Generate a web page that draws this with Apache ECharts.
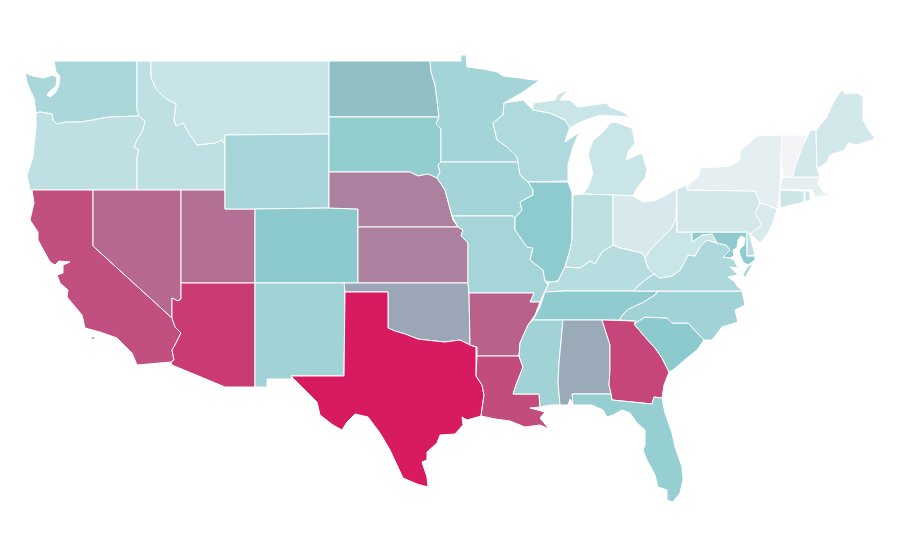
<!DOCTYPE html>
<html><head><meta charset="utf-8">
<script src="https://cdn.jsdelivr.net/npm/echarts@6/dist/echarts.min.js"></script>
<style>html,body{margin:0;background:#fff}#c{width:900px;height:560px}</style></head>
<body><div id="c"></div>
<script>
const stateNames = ["Washington","Oregon","California","Idaho","Montana","Nevada","Utah","Arizona","Wyoming","Colorado","New Mexico","North Dakota","South Dakota","Nebraska","Kansas","Oklahoma","Texas","Minnesota","Iowa","Missouri","Arkansas","Louisiana","Wisconsin","Illinois","Michigan","Indiana","Ohio","Kentucky","Tennessee","Mississippi","Alabama","Georgia","Florida","South Carolina","North Carolina","Virginia","West Virginia","Maryland","Delaware","New Jersey","Pennsylvania","New York","Connecticut","Rhode Island","Massachusetts","Vermont","New Hampshire","Maine"];
const stateValues = [36,26,85,26,21,78,76,91,38,50,40,53,47,71,71,60,100,39,39,38,80,86,33,49,20,27,14,29,48,40,59,88,45,50,40,34,20,48,26,13,16,7,19,19,7,0,16,16];
const colorStops = ["#f4f4f6","#c0e1e4","#8ccacd","#b27296","#d81b60"];
// State outlines, as rings of "x,y" map coordinates
const outlines = {
"Washington":["54,61 137,61 137,110 139,116 108,117 93,120 80,122 66,122 57,124 53,120 52,114 40,112 36,113 35,105 34,98 30,90 27,82 25,73 33,76 43,78 53,75 57,78 56,86 50,91 47,95 50,97 56,92 59,85 60,76 56,72"],
"Oregon":["36,113 40,112 52,114 53,120 57,124 66,122 80,122 93,120 108,117 139,116 145,121 143,130 137,140 134,147 139,150 137,157 137,190 30,190 27,175 33,157 36,127"],
"California":["32,190 93,190 93,246 172,318 175,327 181,333 175,345 172,350 174,360 171,362 137,365 132,353 117,338 100,332 85,328 82,315 67,297 68,290 60,283 57,275 63,273 63,265 70,262 59,261 55,265 50,262 38,240 38,232 30,220 34,203","91,337 95,337 95,339 91,339"],
"Idaho":["137,61 151,61 151,77 156,89 165,98 176,104 174,120 176,126 183,123 190,135 197,145 215,143 222,140 225,145 225,190 137,190 137,157 139,150 134,147 137,140 143,130 145,121 139,116 137,110"],
"Montana":["151,61 330,61 329,134 225,135 225,145 222,140 215,143 197,145 190,135 183,123 176,126 174,120 176,104 165,98 156,89 151,77"],
"Nevada":["93,190 181,190 181,299 178,301 172,298 172,318 93,246"],
"Utah":["181,190 225,190 225,209 255,209 255,283 181,283"],
"Arizona":["181,283 255,283 255,387 225,387 172,365 171,362 174,360 172,350 175,345 181,333 175,327 172,318 172,298 178,301 181,299"],
"Wyoming":["225,135 329,134 329,208 255,209 225,209"],
"Colorado":["255,209 329,208 358,209 358,283 255,283"],
"New Mexico":["255,283 345,283 344,376 291,376 292,379 267,379 267,387 255,387"],
"North Dakota":["329,61 430,61 431,72 435,85 437,100 439,117 329,117"],
"South Dakota":["329,117 439,117 436,124 441,129 441,162 438,165 440,172 437,178 428,174 418,176 410,172 329,172"],
"Nebraska":["329,172 410,172 418,176 428,174 437,178 445,190 449,205 453,220 458,227 358,227 358,209 329,208"],
"Kansas":["358,227 458,227 463,230 461,236 468,243 468,283 358,283"],
"Oklahoma":["344,283 468,283 469,293 470,345 460,340 445,342 435,341 418,339 405,334 395,331 388,328 388,292 345,292"],
"Texas":["345,292 388,292 388,328 395,331 405,334 418,339 435,341 445,342 460,340 470,345 476,347 476,376 482,385 484,395 481,416 467,420 462,417 463,425 455,434 440,435 437,443 427,452 427,460 422,462 427,477 428,487 417,484 403,478 397,465 390,450 380,433 368,417 355,414 347,422 342,430 333,425 320,415 317,402 302,387 291,376 344,376"],
"Minnesota":["430,61 461,61 461,55 466,55 467,67 483,69 497,72 503,76 520,78 533,80 540,80 523,92 504,103 503,115 493,123 497,140 507,147 517,157 518,162 441,162 441,129 436,124 439,117 437,100 435,85 431,72"],
"Iowa":["441,162 518,162 520,175 528,182 533,190 533,195 520,202 522,210 515,218 513,216 452,216 449,205 445,190 437,178 440,172 438,165"],
"Missouri":["452,216 513,216 515,218 515,230 527,247 533,248 530,260 543,270 545,281 548,285 544,293 540,302 530,302 534,293 469,293 468,283 468,243 461,236 463,230 458,227"],
"Arkansas":["469,293 534,293 530,302 540,302 535,315 528,325 520,343 519,356 477,356 477,347 470,345"],
"Louisiana":["477,356 519,356 523,367 516,385 513,394 539,394 540,407 530,408 545,412 540,418 549,429 540,425 525,427 510,421 495,419 481,416 484,395 482,385 476,376"],
"Wisconsin":["504,103 523,100 533,110 550,113 565,120 570,127 568,132 565,142 580,132 577,137 572,150 568,165 568,181 528,182 520,175 518,162 517,157 507,147 497,140 493,123 503,115"],
"Illinois":["528,182 568,182 572,193 572,240 570,250 565,267 558,281 550,282 545,281 543,270 530,260 533,248 527,247 515,230 515,218 522,210 520,202 533,195 533,190"],
"Michigan":["533,103 555,100 558,94 568,90 562,97 560,100 570,100 578,107 607,103 610,107 623,112 630,117 600,115 580,122 570,128 565,120 550,113 533,110","615,122 632,128 635,143 628,152 626,160 642,153 647,170 645,178 637,188 633,196 613,195 583,194 588,187 593,173 588,155 593,140 600,135 605,130 610,123"],
"Indiana":["573,195 583,194 613,195 613,245 602,252 595,264 590,261 580,268 565,267 570,250 572,240"],
"Ohio":["613,195 633,196 643,202 657,200 677,189 676,217 672,228 660,240 650,250 645,258 642,253 620,248 613,245"],
"Kentucky":["545,292 548,285 550,282 558,281 565,267 580,268 590,261 595,264 602,252 613,245 620,248 642,253 645,258 648,268 654,274 645,280 633,291 565,291"],
"Tennessee":["545,292 565,291 633,291 658,291 655,295 642,303 627,310 621,317 620,320 533,320 540,307"],
"Mississippi":["533,320 563,320 559,363 558,383 560,405 550,405 540,407 539,394 513,394 516,385 523,367 519,356 520,343 528,325"],
"Alabama":["563,320 602,320 610,345 610,370 609,385 611,394 572,394 574,405 570,399 568,405 560,405 558,383 559,363"],
"Georgia":["602,320 636,321 634,324 645,337 655,348 662,358 669,372 664,385 662,398 654,397 652,404 612,400 611,394 609,385 610,370 610,345"],
"Florida":["572,394 611,394 612,400 652,404 654,397 662,398 665,413 672,433 675,447 682,467 683,480 680,493 673,502 667,500 667,490 658,487 655,475 647,460 643,450 645,445 645,430 637,423 630,413 622,410 613,415 607,417 603,410 592,405 573,405"],
"South Carolina":["634,324 645,317 667,318 672,323 688,323 704,340 697,350 687,358 673,370 669,372 662,358 655,348 645,337"],
"North Carolina":["658,291 742,291 745,305 735,310 738,322 722,327 712,340 704,340 688,323 672,323 667,318 645,317 634,324 636,321 620,320 621,317 627,310 642,303 655,295"],
"Virginia":["633,291 645,280 654,274 660,278 672,276 680,270 688,255 695,256 700,247 707,240 717,243 726,245 730,250 723,257 730,258 734,260 738,268 730,267 738,275 728,277 735,282 737,286 743,291 658,291","748,266 753,264 745,278 743,274"],
"West Virginia":["676,217 677,232 692,232 692,242 702,235 712,234 717,243 707,240 700,247 695,256 688,255 680,270 672,276 660,278 654,274 648,268 645,258 650,250 660,240 672,228"],
"Maryland":["692,232 747,232 747,256 755,256 755,260 748,265 743,262 740,255 739,250 744,245 745,238 741,236 738,240 737,248 733,250 734,256 730,258 723,257 730,250 726,245 717,243 712,234 702,235 692,242"],
"Delaware":["747,232 749,232 755,255 747,256"],
"New Jersey":["760,203 767,205 777,209 773,223 767,235 760,243 750,234 762,225 755,213"],
"Pennsylvania":["677,189 687,185 687,190 755,191 760,203 755,213 762,225 750,234 747,232 677,232"],
"New York":["687,190 687,186 698,177 701,168 718,167 730,166 740,160 740,150 750,143 757,136 782,135 781,162 780,189 778,207 798,202 780,208 777,209 767,205 760,203 755,191"],
"Connecticut":["780,190 804,191 804,202 780,208"],
"Rhode Island":["805,191 810,191 810,200 805,202"],
"Massachusetts":["782,178 793,177 820,177 818,183 823,192 830,195 815,197 812,190 780,189"],
"Vermont":["782,135 808,135 802,148 795,167 793,177 783,177 781,162"],
"New Hampshire":["808,135 811,130 816,130 817,168 820,177 793,177 795,167 802,148"],
"Maine":["816,130 820,125 827,117 832,105 840,92 843,90 845,94 857,93 863,97 863,120 870,132 875,138 872,140 865,142 857,145 848,143 845,150 830,155 827,162 820,167 817,168"]
};
const toRing = s => s.split(" ").map(p => p.split(",").map(Number));
const geo = {type:"FeatureCollection",features:stateNames.map(n=>({type:"Feature",properties:{name:n},
  geometry:{type:"MultiPolygon",coordinates:outlines[n].map(r=>[toRing(r)])}}))};
echarts.registerMap("usa",geo);
const chart = echarts.init(document.getElementById("c"));
chart.setOption({
  animation:false,
  backgroundColor:"#fff",
  visualMap:{show:false,min:0,max:100,inRange:{color:colorStops},calculable:false},
  series:[{type:"map",map:"usa",roam:false,silent:true,
    projection:{project:p=>p,unproject:p=>p},
    boundingCoords:[[0,0],[900,560]],
    left:0,top:0,width:900,height:560,
    label:{show:false},
    itemStyle:{borderColor:"#fff",borderWidth:1},
    data:stateNames.map((n,i)=>({name:n,value:stateValues[i]}))}]
});
</script></body></html>
